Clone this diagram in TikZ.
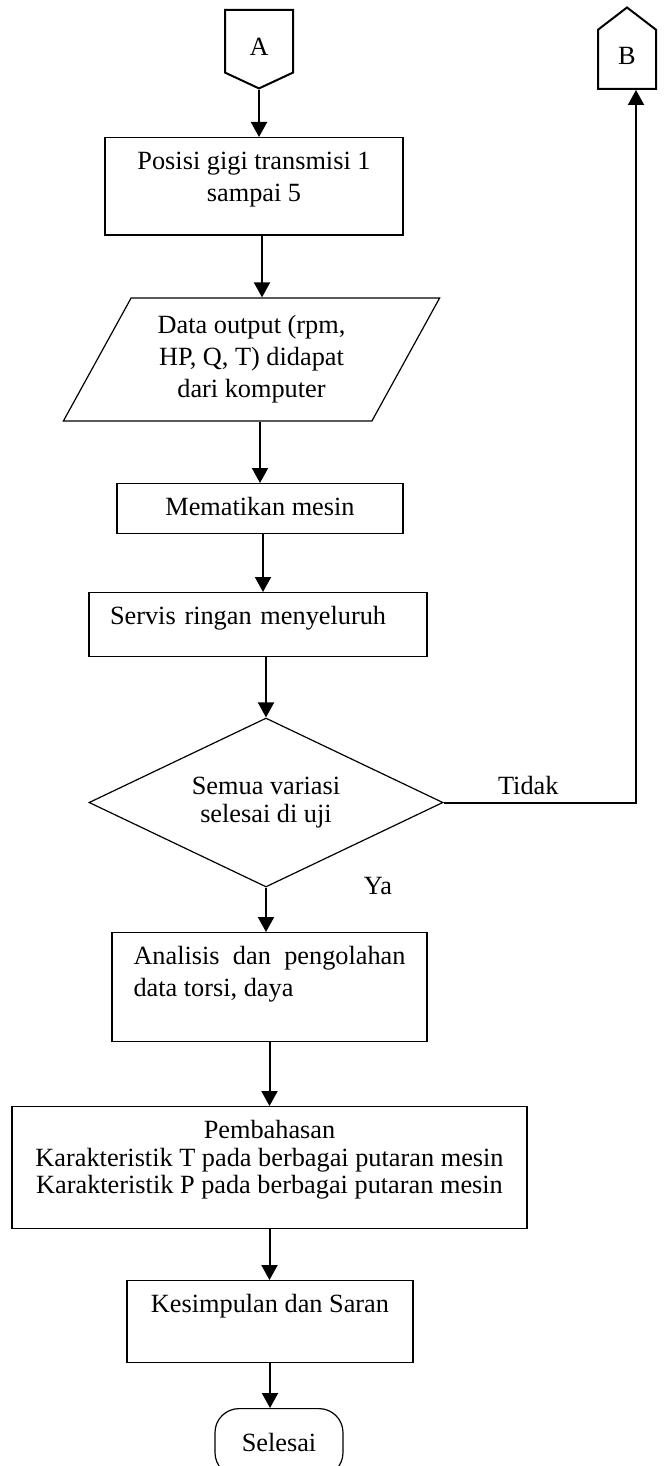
\documentclass[tikz,border=0pt]{standalone}
\usepackage{fontspec}
\setmainfont{Liberation Serif}
\usepackage{tikz}
\usetikzlibrary{arrows.meta,positioning,shapes.geometric,shapes.symbols}
\tikzset{
  proc/.style n args={2}{draw, line width=0.6pt, align=center, anchor=north,
        inner ysep=7pt, minimum width=#1, text depth=#2},
  fio/.style={draw, line width=0.6pt, trapezium, trapezium left angle=59,
        trapezium right angle=121, trapezium stretches=true, align=center, inner sep=0pt},
  fdec/.style={draw, line width=0.6pt, diamond, aspect=2.1, align=center, inner sep=0pt},
  fconn/.style={draw, line width=1pt, signal, signal from=nowhere, inner sep=0pt},
  fterm/.style={draw, line width=0.6pt, rounded corners=12pt, anchor=north},
  flow/.style={-{Triangle[length=7.5pt,width=8pt]}, line width=1pt},
}

\begin{document}
\begin{tikzpicture}[x=0.5pt, y=-0.5pt, font=\fontsize{13.15pt}{16pt}\selectfont]
  \useasboundingbox (0,0) rectangle (669,1466);
  % --- off-page connectors ---
  \node[fconn, signal to=south, signal pointer angle=130, minimum width=34pt,
        minimum height=33.5pt, text height=14pt, anchor=north] (A) at (259,9) {A};
  \node[fconn, signal to=north, signal pointer angle=105, minimum width=29pt,
        minimum height=33pt, text depth=3pt, anchor=south] (B) at (627,90) {B};
  % --- main column ---
  \node[proc={149pt}{10pt}] (pos) at (254,137) {Posisi gigi transmisi 1\\sampai 5};
  \node[fio, minimum width=188.5pt, minimum height=61.5pt] (data) at (251.5,359.5)
       {Data output (rpm,\\HP, Q, T) didapat\\dari komputer};
  \node[proc={143pt}{2pt}] (mati) at (260,483) {Mematikan mesin};
  \node[proc={169pt}{9pt}, text width=148pt, inner xsep=10.5pt, align=left] (servis) at (258,592)
       {Servis ringan menyeluruh};
  \node[fdec, minimum width=177pt, minimum height=84.5pt,
        font=\fontsize{13.15pt}{14pt}\selectfont] (cek) at (266,802.5)
       {Semua variasi\\selesai di uji};
  \node[proc={157.5pt}{31.5pt}, text width=136pt, inner xsep=10.75pt, align=justify] (analisis)
       at (269.5,932) {Analisis dan pengolahan data torsi, daya};
  \node[proc={257.5pt}{10.5pt}, font=\fontsize{13.15pt}{13.75pt}\selectfont] (bahas) at (269.5,1106)
       {Pembahasan\\Karakteristik T pada berbagai putaran mesin\\Karakteristik P pada berbagai putaran mesin};
  \node[proc={143pt}{18pt}] (simpul) at (270,1280) {Kesimpulan dan Saran};
  \node[fterm, minimum width=64pt, minimum height=34pt] (selesai) at (279,1408) {Selesai};
  % --- connectors ---
  \draw[flow] (A.south) -- (A.south |- pos.north);
  \draw[flow] ([xshift=4pt]pos.south) -- ([xshift=4pt]pos.south |- data.north);
  \draw[flow] (data.south -| mati.north) -- (mati.north);
  \draw[flow] ([xshift=1.5pt]mati.south) -- ([xshift=1.5pt]mati.south |- servis.north);
  \draw[flow] (servis.south -| cek.north) -- (cek.north);
  \draw[flow] (cek.south) -- (cek.south |- analisis.north)
       node[pos=0, xshift=56pt, yshift=1pt]{Ya};
  \draw[flow] (analisis.south) -- (analisis.south |- bahas.north);
  \draw[flow] (bahas.south) -- (bahas.south |- simpul.north);
  \draw[flow] (simpul.south) -- (simpul.south |- selesai.north);
  \draw[flow] (cek.east) -| ([xshift=4.5pt]B.south) node[pos=0.22, above]{Tidak};
\end{tikzpicture}
\end{document}
